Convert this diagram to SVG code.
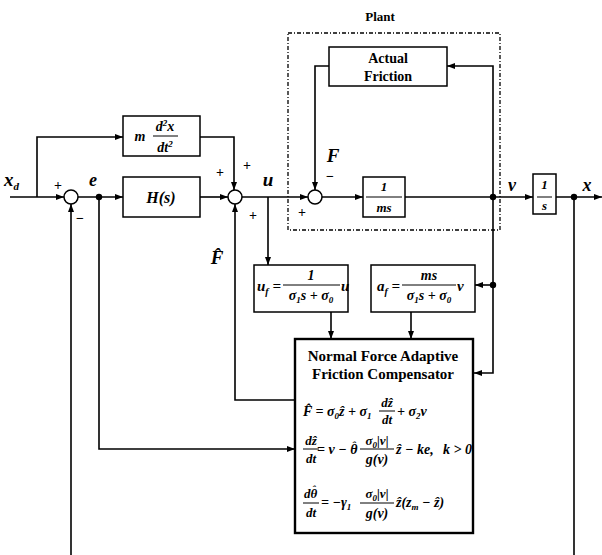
<svg xmlns="http://www.w3.org/2000/svg" width="602" height="555" viewBox="0 0 602 555">
<defs>
<marker id="ar" viewBox="0 0 8 6" refX="8" refY="3" markerWidth="8" markerHeight="6" markerUnits="userSpaceOnUse" orient="auto">
<path d="M0,0 L8,3 L0,6 Z" fill="#000"/>
</marker>
</defs>
<style>
.ln{fill:none;stroke:#000;stroke-width:1.6}
.bx{fill:#fff;stroke:#000;stroke-width:1.5}
.sj{fill:#fff;stroke:#000;stroke-width:1.5}
.m{font-family:"Liberation Serif","DejaVu Serif",serif;font-style:italic;font-weight:bold;fill:#000}
.b{font-family:"Liberation Serif","DejaVu Serif",serif;font-weight:bold;fill:#000}
.sg{font-family:"Liberation Serif","DejaVu Serif",serif;font-weight:bold;font-size:14px;fill:#000}
.fl{stroke:#000;stroke-width:1}
</style>
<rect width="602" height="555" fill="#fff"/>

<g id="plant-frame">
<rect x="288" y="33" width="212" height="197" fill="none" stroke="#000" stroke-width="1.3" stroke-dasharray="4,2,1,2"/>
<text class="b" x="380" y="21" font-size="13" text-anchor="middle">Plant</text>
</g>

<g id="connectors">
<path class="ln" d="M10,197 H64" marker-end="url(#ar)"/>
<path class="ln" d="M37,197 V137 H123" marker-end="url(#ar)"/>
<path class="ln" d="M78,197 H123" marker-end="url(#ar)"/>
<path class="ln" d="M200,197 H228" marker-end="url(#ar)"/>
<path class="ln" d="M200,137 H234 V190" marker-end="url(#ar)"/>
<path class="ln" d="M242,197 H308" marker-end="url(#ar)"/>
<path class="ln" d="M268,197 V265" marker-end="url(#ar)"/>
<path class="ln" d="M329,66 H315 V190" marker-end="url(#ar)"/>
<path class="ln" d="M322,197 H363" marker-end="url(#ar)"/>
<path class="ln" d="M405,197 H533" marker-end="url(#ar)"/>
<path class="ln" d="M493,197 V66 H447" marker-end="url(#ar)"/>
<path class="ln" d="M493,197 V373 H474" marker-end="url(#ar)"/>
<path class="ln" d="M493,285 H475" marker-end="url(#ar)"/>
<path class="ln" d="M556,197 H602" marker-end="url(#ar)"/>
<path class="ln" d="M574,197 V555"/>
<path class="ln" d="M71,555 V204" marker-end="url(#ar)"/>
<path class="ln" d="M99,197 V449 H295" marker-end="url(#ar)"/>
<path class="ln" d="M295,400 H235 V204" marker-end="url(#ar)"/>
<path class="ln" d="M331,312 V339" marker-end="url(#ar)"/>
<path class="ln" d="M411,312 V339" marker-end="url(#ar)"/>
<circle cx="99" cy="197" r="3.2"/>
<circle cx="493" cy="197" r="3.2"/>
<circle cx="493" cy="285" r="3.2"/>
<circle cx="574" cy="197" r="3.2"/>
</g>

<g id="sum1"><circle class="sj" cx="71" cy="197" r="7"/>
<text class="sg" x="58" y="190" text-anchor="middle">+</text>
<text class="sg" x="80" y="223" text-anchor="middle">−</text></g>

<g id="sum2"><circle class="sj" cx="235" cy="197" r="7"/>
<text class="sg" x="220" y="177" text-anchor="middle">+</text>
<text class="sg" x="247" y="170" text-anchor="middle">+</text>
<text class="sg" x="253" y="220" text-anchor="middle">+</text></g>

<g id="sum3"><circle class="sj" cx="315" cy="197" r="7"/>
<text class="sg" x="330" y="181" text-anchor="middle">−</text>
<text class="sg" x="302" y="217" text-anchor="middle">+</text></g>

<g id="labels">
<text class="m" x="4" y="186" font-size="19">x<tspan font-size="11" dy="4">d</tspan></text>
<text class="m" x="93" y="186" font-size="18" text-anchor="middle">e</text>
<text class="m" x="268" y="186" font-size="19" text-anchor="middle">u</text>
<text class="m" x="217" y="264" font-size="19" text-anchor="middle">F̂</text>
<text class="m" x="333" y="162" font-size="19" text-anchor="middle">F</text>
<text class="m" x="512" y="191" font-size="18" text-anchor="middle">v</text>
<text class="m" x="587" y="191" font-size="18" text-anchor="middle">x</text>
</g>

<g id="mass-accel">
<rect class="bx" x="123" y="116" width="77" height="40"/>
<text class="m" x="140" y="141" font-size="14" text-anchor="middle">m</text>
<text class="m" x="165" y="131" font-size="14" text-anchor="middle">d<tspan font-size="9" dy="-5">2</tspan><tspan dy="5">x</tspan></text>
<line class="fl" x1="153" y1="136" x2="178" y2="136"/>
<text class="m" x="165" y="152" font-size="14" text-anchor="middle">dt<tspan font-size="9" dy="-5">2</tspan></text>
</g>

<g id="Hs">
<rect class="bx" x="123" y="177" width="77" height="40"/>
<text class="m" x="161" y="203" font-size="16" text-anchor="middle" font-weight="normal">H(s)</text>
</g>

<g id="actual-friction">
<rect class="bx" x="329" y="47" width="118" height="39"/>
<text class="b" x="388" y="63" font-size="14" text-anchor="middle">Actual</text>
<text class="b" x="388" y="81" font-size="14" text-anchor="middle">Friction</text>
</g>

<g id="one-over-ms">
<rect class="bx" x="363" y="177" width="42" height="40"/>
<text class="m" x="384" y="191" font-size="13" text-anchor="middle">1</text>
<line class="fl" x1="366" y1="197" x2="402" y2="197"/>
<text class="m" x="384" y="212" font-size="13" text-anchor="middle">ms</text>
</g>

<g id="integrator">
<rect class="bx" x="533" y="174" width="23" height="40"/>
<text class="m" x="544.5" y="189" font-size="13" text-anchor="middle">1</text>
<line class="fl" x1="537" y1="197" x2="552" y2="197"/>
<text class="m" x="544.5" y="210" font-size="13" text-anchor="middle">s</text>
</g>

<g id="uf-filter">
<rect class="bx" x="254" y="265" width="94" height="47"/>
<text class="m" x="257" y="291" font-size="15">u<tspan font-size="10" dy="4">f</tspan><tspan dy="-4"> =</tspan></text>
<text class="m" x="311" y="280" font-size="14" text-anchor="middle">1</text>
<line class="fl" x1="283" y1="285" x2="340" y2="285"/>
<text class="m" x="311" y="300" font-size="14" text-anchor="middle">σ<tspan font-size="9" dy="3">1</tspan><tspan dy="-3">s + σ</tspan><tspan font-size="9" dy="3">0</tspan></text>
<text class="m" x="341" y="291" font-size="15">u</text>
</g>

<g id="af-filter">
<rect class="bx" x="371" y="265" width="104" height="47"/>
<text class="m" x="377" y="291" font-size="15">a<tspan font-size="10" dy="4">f</tspan><tspan dy="-4"> =</tspan></text>
<text class="m" x="429" y="280" font-size="14" text-anchor="middle">ms</text>
<line class="fl" x1="402" y1="285" x2="456" y2="285"/>
<text class="m" x="429" y="300" font-size="14" text-anchor="middle">σ<tspan font-size="9" dy="3">1</tspan><tspan dy="-3">s + σ</tspan><tspan font-size="9" dy="3">0</tspan></text>
<text class="m" x="457" y="291" font-size="15">v</text>
</g>

<g id="compensator">
<rect x="295" y="339" width="178" height="194" fill="#fff" stroke="#000" stroke-width="2.4"/>
<text class="b" x="383" y="361" font-size="15" text-anchor="middle">Normal Force Adaptive</text>
<text class="b" x="383" y="379" font-size="15" text-anchor="middle">Friction Compensator</text>

<text class="m" x="303" y="416" font-size="14">F̂ = σ<tspan font-size="9" dy="3">0</tspan><tspan dy="-3">ẑ + σ</tspan><tspan font-size="9" dy="3">1</tspan></text>
<text class="m" x="387" y="407" font-size="13" text-anchor="middle">dẑ</text>
<line class="fl" x1="379" y1="411" x2="395" y2="411"/>
<text class="m" x="387" y="424" font-size="13" text-anchor="middle">dt</text>
<text class="m" x="397" y="416" font-size="14">+ σ<tspan font-size="9" dy="3">2</tspan><tspan dy="-3">v</tspan></text>

<text class="m" x="311" y="445" font-size="13" text-anchor="middle">dẑ</text>
<line class="fl" x1="303" y1="449" x2="319" y2="449"/>
<text class="m" x="311" y="463" font-size="13" text-anchor="middle">dt</text>
<text class="m" x="317" y="454" font-size="14">= v − θ<tspan font-size="11" dx="-5.5" dy="-5">ˆ</tspan></text>
<text class="m" x="377" y="445" font-size="13" text-anchor="middle">σ<tspan font-size="9" dy="3">0</tspan><tspan dy="-3">|v|</tspan></text>
<line class="fl" x1="360" y1="449" x2="394" y2="449"/>
<text class="m" x="377" y="464" font-size="14" text-anchor="middle">g(v)</text>
<text class="m" x="396" y="454" font-size="14">ẑ − ke,</text>
<text class="m" x="443" y="454" font-size="14">k &gt; 0</text>

<text class="m" x="304" y="498" font-size="13">dθ<tspan font-size="10" dx="-5" dy="-5">ˆ</tspan></text>
<line class="fl" x1="303" y1="503" x2="319" y2="503"/>
<text class="m" x="311" y="517" font-size="13" text-anchor="middle">dt</text>
<text class="m" x="321" y="507" font-size="14">= −γ<tspan font-size="9" dy="3">1</tspan></text>
<text class="m" x="377" y="498" font-size="13" text-anchor="middle">σ<tspan font-size="9" dy="3">0</tspan><tspan dy="-3">|v|</tspan></text>
<line class="fl" x1="360" y1="503" x2="394" y2="503"/>
<text class="m" x="377" y="518" font-size="14" text-anchor="middle">g(v)</text>
<text class="m" x="396" y="507" font-size="14">ẑ(z<tspan font-size="9" dy="3">m</tspan><tspan dy="-3"> − ẑ)</tspan></text>
</g>
</svg>
